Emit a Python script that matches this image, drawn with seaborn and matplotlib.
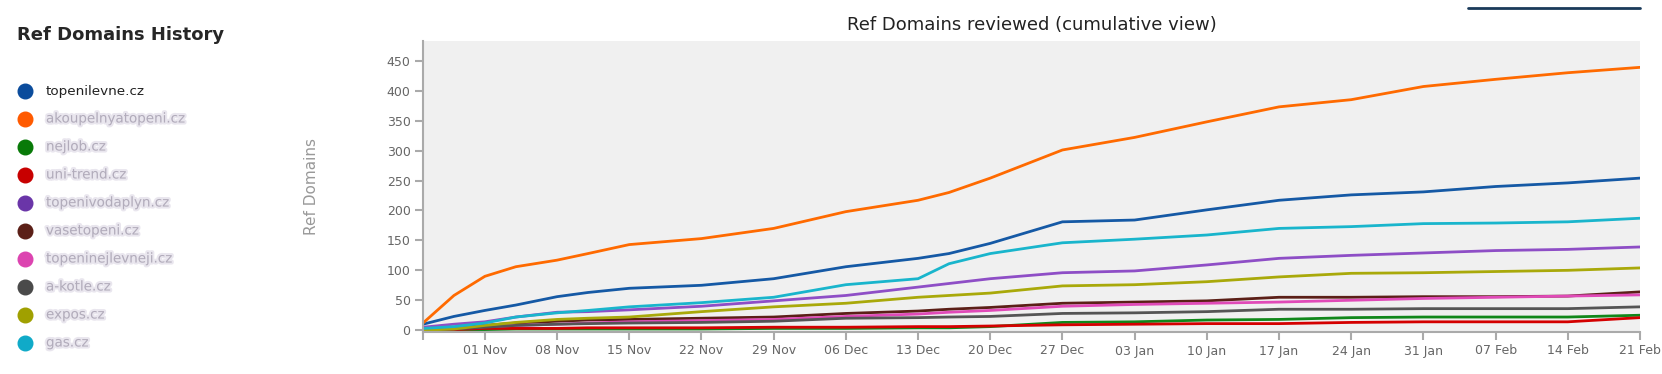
import pandas as pd
import matplotlib.pyplot as plt
import matplotlib.dates as mdates
import matplotlib.patheffects as pe
import seaborn as sns

sns.set_style('white')
plt.rcParams['font.family'] = ['DejaVu Sans']

# data (cumulative ref domains)
dates = ['2020-10-26', '2020-10-29', '2020-11-01', '2020-11-04', '2020-11-08',
         '2020-11-11', '2020-11-15', '2020-11-22', '2020-11-29', '2020-12-06',
         '2020-12-13', '2020-12-16', '2020-12-20', '2020-12-27', '2021-01-03',
         '2021-01-10', '2021-01-17', '2021-01-24', '2021-01-31', '2021-02-07',
         '2021-02-14', '2021-02-21']

domains = ['topenilevne.cz', 'akoupelnyatopeni.cz', 'nejlob.cz',
           'uni-trend.cz', 'topenivodaplyn.cz', 'vasetopeni.cz',
           'topeninejlevneji.cz', 'a-kotle.cz', 'expos.cz', 'gas.cz']

topenilevne = [10, 23, 33, 42, 56, 63, 70, 75, 86, 106, 120, 128, 145, 181,
               184, 201, 217, 226, 231, 240, 246, 254]
akoupelnyatopeni = [12, 58, 90, 106, 117, 128, 143, 153, 170, 198, 217, 230,
                    254, 301, 322, 348, 373, 385, 407, 419, 430, 439]
nejlob = [0, 0, 1, 2, 2, 2, 2, 2, 3, 3, 4, 4, 6, 13, 14, 17, 18, 21, 22, 22,
          22, 25]
uni_trend = [0, 1, 3, 3, 3, 4, 4, 4, 5, 5, 6, 6, 7, 9, 10, 11, 11, 13, 14, 14,
             14, 21]
topenivodaplyn = [5, 10, 14, 22, 30, 31, 34, 40, 49, 58, 72, 78, 86, 96, 99,
                  109, 120, 125, 129, 133, 135, 139]
vasetopeni = [0, 3, 8, 12, 15, 17, 18, 20, 22, 28, 32, 35, 38, 45, 47, 49, 55,
              55, 56, 56, 57, 64]
topeninejlevneji = [0, 3, 6, 8, 10, 12, 14, 16, 18, 23, 27, 30, 33, 40, 43, 45,
                    47, 50, 53, 55, 57, 59]
a_kotle = [0, 2, 5, 8, 10, 11, 12, 13, 15, 20, 21, 22, 23, 28, 29, 31, 35, 35,
           36, 36, 36, 39]
expos = [0, 2, 8, 13, 18, 20, 22, 31, 39, 45, 55, 58, 62, 74, 76, 81, 89, 95,
         96, 98, 100, 104]
gas = [3, 6, 12, 22, 29, 33, 39, 46, 55, 76, 86, 111, 128, 146, 152, 159, 170,
       173, 178, 179, 181, 187]

colors = ['#1559a5', '#ff6a00', '#10871a', '#d40000', '#8e4ec6', '#5b1f17',
          '#e04ab8', '#555555', '#a9a90a', '#19b5cc']
legend_colors = ['#0b4c9c', '#ff5a00', '#087a08', '#c80000', '#6a35a8',
                 '#5b1f17', '#dc44b0', '#4a4a4a', '#a0a000', '#10aac8']


def build_frame():
    '''
    Put all the series into one long dataframe for seaborn
    '''
    series = [topenilevne, akoupelnyatopeni, nejlob, uni_trend,
              topenivodaplyn, vasetopeni, topeninejlevneji, a_kotle, expos,
              gas]
    frames = []
    for name, values in zip(domains, series):
        frames.append(pd.DataFrame({'date': pd.to_datetime(dates),
                                    'refs': values, 'domain': name}))
    return pd.concat(frames, ignore_index=True)


def main():
    df = build_frame()

    fig = plt.figure(figsize=(16.62, 3.74), dpi=100)
    ax = fig.add_axes([423 / 1662, 42 / 374, 1217 / 1662, 291 / 374])
    ax.set_facecolor('#f0f0f0')

    sns.lineplot(data=df, x='date', y='refs', hue='domain',
                 palette=dict(zip(domains, colors)), linewidth=2,
                 legend=False, ax=ax)

    # axes styling
    ax.set_xlim(pd.Timestamp('2020-10-26'), pd.Timestamp('2021-02-21'))
    ax.set_ylim(-3, 483)
    ax.set_yticks(range(0, 451, 50))
    ax.set_xticks(pd.date_range('2020-11-01', '2021-02-21', freq='7D'))
    ax.set_xticks([pd.Timestamp('2020-10-26')], minor=True)
    ax.xaxis.set_major_formatter(mdates.DateFormatter('%d %b'))
    for side in ['top', 'right']:
        ax.spines[side].set_visible(False)
    for side in ['left', 'bottom']:
        ax.spines[side].set_color('#aaaaaa')
        ax.spines[side].set_linewidth(1.5)
    ax.tick_params(axis='both', which='both', length=6, width=1.5,
                   color='#aaaaaa', labelcolor='#666666', labelsize=9,
                   bottom=True, left=True, pad=3)
    ax.set_xlabel('')
    ax.set_ylabel('Ref Domains', color='#999999', fontsize=11)
    ax.yaxis.set_label_coords(-0.0855, 0.5)
    ax.set_title('Ref Domains reviewed (cumulative view)', fontsize=13,
                 color='#222222', pad=8)

    # left side legend
    fig.text(17 / 1662, 1 - 35 / 374, 'Ref Domains History', fontsize=13,
             fontweight='bold', va='center', ha='left')
    for i, name in enumerate(domains):
        y = 1 - (91 + i * 28) / 374
        fig.add_artist(plt.Line2D([25 / 1662], [y], marker='o',
                                  markersize=10.5, color=legend_colors[i],
                                  transform=fig.transFigure))
        if i == 0:
            fig.text(46 / 1662, y, name, fontsize=9.7, color='#222222',
                     va='center', ha='left')
        else:
            t = fig.text(46 / 1662, y, name, fontsize=9.7, color='#a8a2b2',
                         va='center', ha='left', alpha=0.8)
            t.set_path_effects([pe.withStroke(linewidth=3,
                                              foreground='#e4e0ea')])

    # line at the top right corner
    fig.add_artist(plt.Line2D([1468 / 1662, 1640 / 1662],
                              [1 - 8 / 374, 1 - 8 / 374], color='#1a3a5a',
                              linewidth=2, transform=fig.transFigure))

    plt.savefig('out.png', dpi=100)


if __name__ == '__main__':
    main()
